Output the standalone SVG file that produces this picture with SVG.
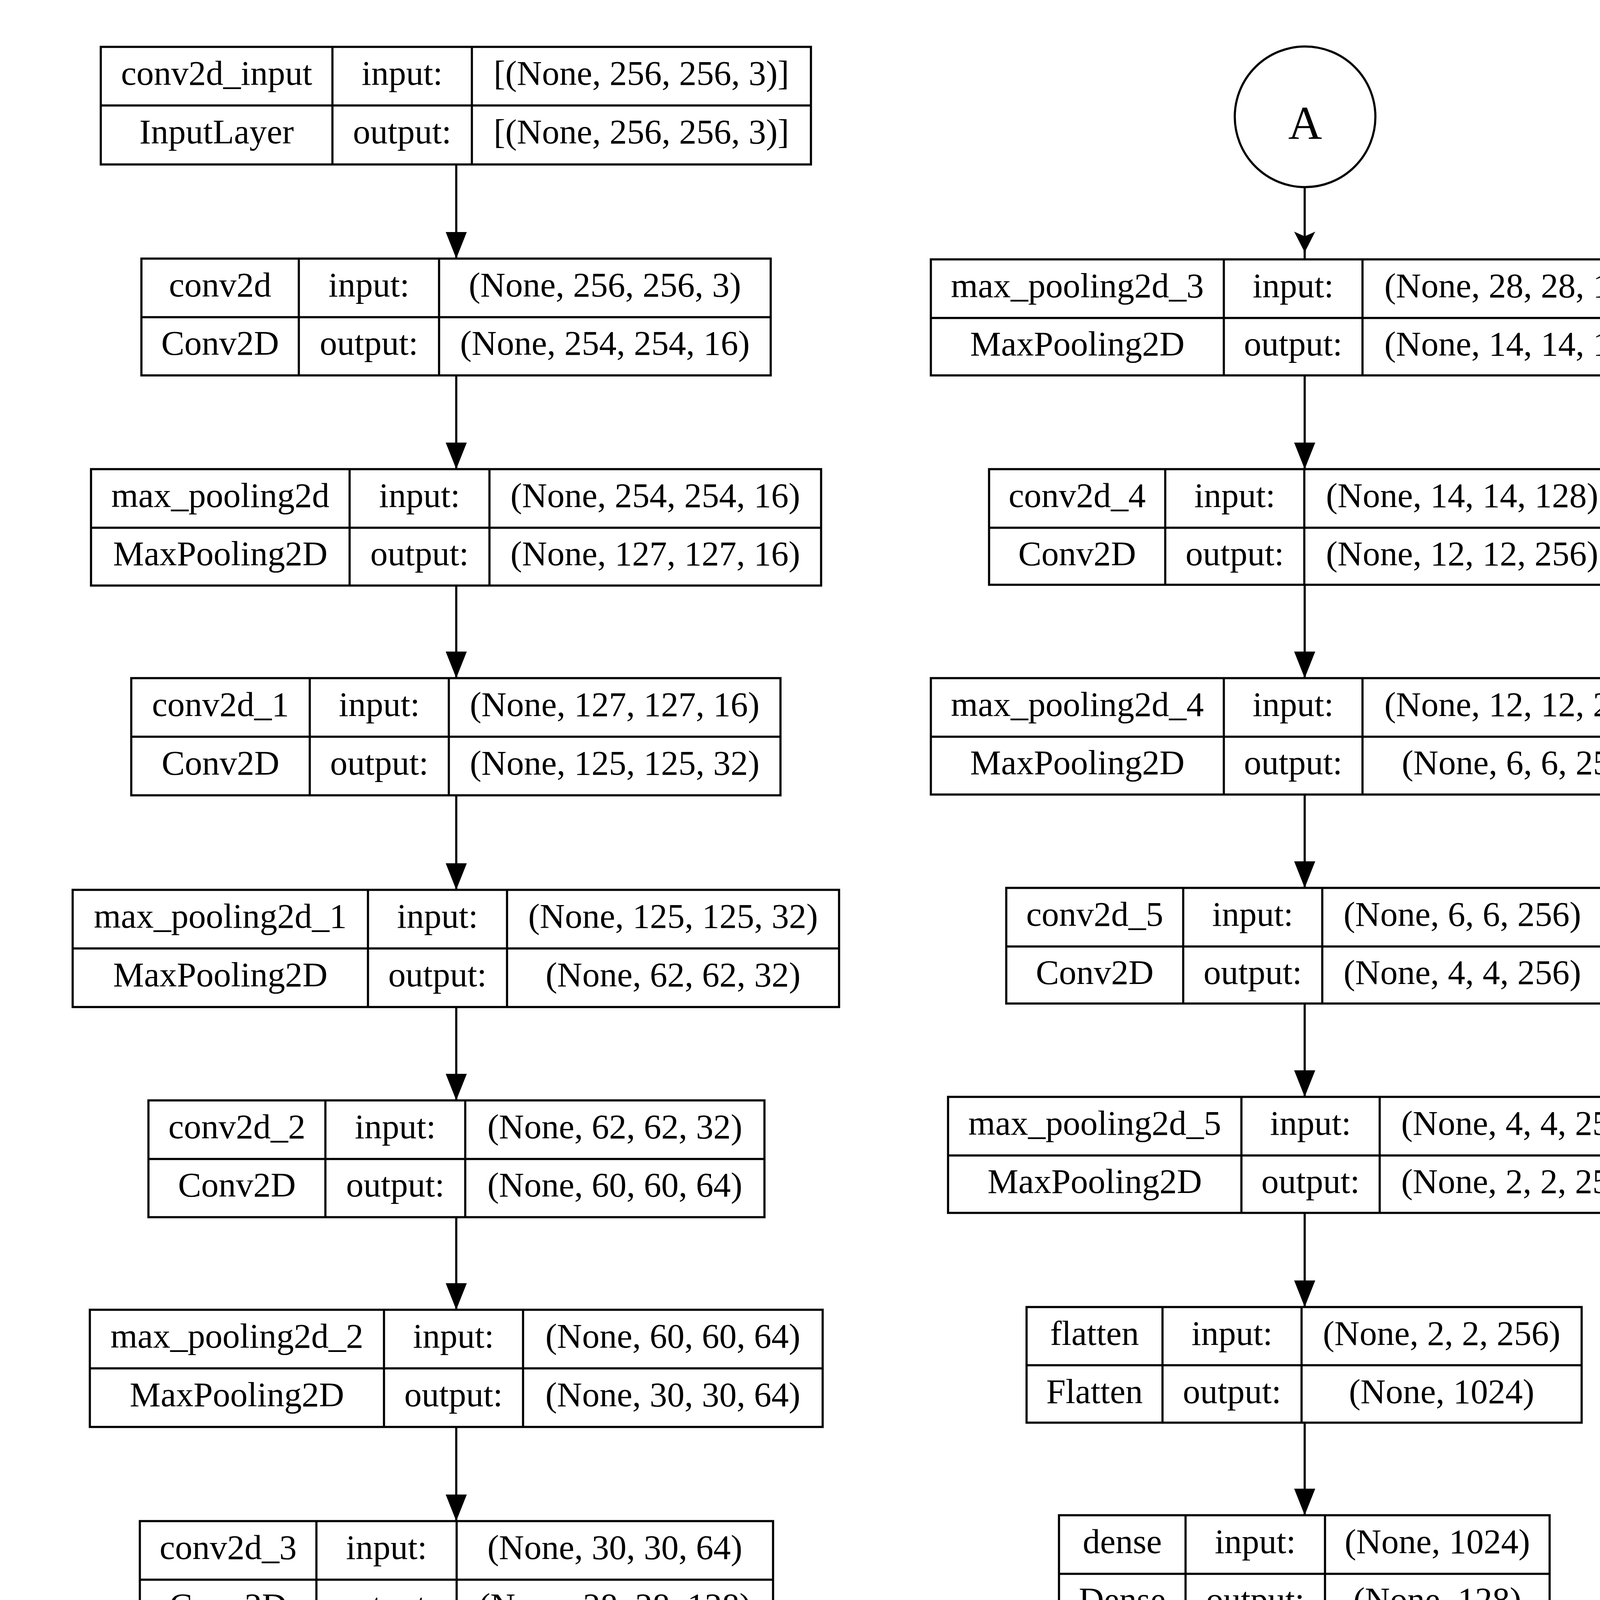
<svg xmlns="http://www.w3.org/2000/svg" width="4472" height="4874" viewBox="0 0 4472 4874">
<style>
.bx{fill:#fff;stroke:#000;stroke-width:5.5}
.ln{stroke:#000;stroke-width:5.5;fill:none}
.t{font-family:"Liberation Serif","Times New Roman",serif;font-size:89px;text-anchor:middle;fill:#000}
.ca{font-family:"Liberation Serif","Times New Roman",serif;font-size:120px;text-anchor:middle;fill:#000}
.ed{stroke:#000;stroke-width:5.5;fill:none}
.cir{fill:#fff;stroke:#000;stroke-width:5.5}
</style>
<defs>
<marker id="ah" markerUnits="userSpaceOnUse" viewBox="0 -30 70 60" refX="68" refY="0" markerWidth="70" markerHeight="60" orient="auto">
<path d="M0,-27 L68,0 L0,27 Z" fill="#000"/>
</marker>
<marker id="av" markerUnits="userSpaceOnUse" viewBox="0 -30 56 60" refX="53" refY="0" markerWidth="56" markerHeight="60" orient="auto">
<path d="M0,-27 L53,0 L0,27 L12,0 Z" fill="#000"/>
</marker>
</defs>
<rect width="4472" height="4874" fill="#fff"/>

<g id="edges">
<path class="ed" d="M1168,421 L1168,662" marker-end="url(#ah)"/>
<path class="ed" d="M1168,961 L1168,1201" marker-end="url(#ah)"/>
<path class="ed" d="M1168,1499 L1168,1736" marker-end="url(#ah)"/>
<path class="ed" d="M1168,2036 L1168,2278" marker-end="url(#ah)"/>
<path class="ed" d="M1168,2578 L1168,2817" marker-end="url(#ah)"/>
<path class="ed" d="M1168,3116 L1168,3353" marker-end="url(#ah)"/>
<path class="ed" d="M1168,3653 L1168,3894" marker-end="url(#ah)"/>
<path class="ed" d="M1168,4192 L1168,4397" marker-end="url(#av)"/>
<path class="ed" d="M3340,479 L3340,646" marker-end="url(#av)"/>
<path class="ed" d="M3340,640 L3340,664"/>
<path class="ed" d="M3340,961 L3340,1201" marker-end="url(#ah)"/>
<path class="ed" d="M3340,1497 L3340,1736" marker-end="url(#ah)"/>
<path class="ed" d="M3340,2034 L3340,2273" marker-end="url(#ah)"/>
<path class="ed" d="M3340,2569 L3340,2808" marker-end="url(#ah)"/>
<path class="ed" d="M3340,3105 L3340,3346" marker-end="url(#ah)"/>
<path class="ed" d="M3340,3642 L3340,3879" marker-end="url(#ah)"/>
<path class="ed" d="M3340,4176 L3340,4417" marker-end="url(#ah)"/>
</g>

<g id="conv2d_input">
<rect class="bx" x="258" y="120" width="1818" height="301"/>
<path class="ln" d="M258,270 H2076 M851,120 V421 M1208,120 V421"/>
<text class="t" x="554.5" y="217">conv2d_input</text>
<text class="t" x="554.5" y="367">InputLayer</text>
<text class="t" x="1029.5" y="217">input:</text>
<text class="t" x="1029.5" y="367">output:</text>
<text class="t" x="1642" y="217">[(None, 256, 256, 3)]</text>
<text class="t" x="1642" y="367">[(None, 256, 256, 3)]</text>
</g>

<g id="conv2d">
<rect class="bx" x="362" y="662" width="1611" height="299"/>
<path class="ln" d="M362,812 H1973 M765,662 V961 M1124,662 V961"/>
<text class="t" x="563.5" y="759">conv2d</text>
<text class="t" x="563.5" y="908">Conv2D</text>
<text class="t" x="944.5" y="759">input:</text>
<text class="t" x="944.5" y="908">output:</text>
<text class="t" x="1548.5" y="759">(None, 256, 256, 3)</text>
<text class="t" x="1548.5" y="908">(None, 254, 254, 16)</text>
</g>

<g id="max_pooling2d">
<rect class="bx" x="233" y="1201" width="1869" height="298"/>
<path class="ln" d="M233,1351 H2102 M895,1201 V1499 M1253,1201 V1499"/>
<text class="t" x="564" y="1298">max_pooling2d</text>
<text class="t" x="564" y="1447">MaxPooling2D</text>
<text class="t" x="1074" y="1298">input:</text>
<text class="t" x="1074" y="1447">output:</text>
<text class="t" x="1677.5" y="1298">(None, 254, 254, 16)</text>
<text class="t" x="1677.5" y="1447">(None, 127, 127, 16)</text>
</g>

<g id="conv2d_1">
<rect class="bx" x="336" y="1736" width="1662" height="300"/>
<path class="ln" d="M336,1886 H1998 M793,1736 V2036 M1149,1736 V2036"/>
<text class="t" x="564.5" y="1833">conv2d_1</text>
<text class="t" x="564.5" y="1983">Conv2D</text>
<text class="t" x="971" y="1833">input:</text>
<text class="t" x="971" y="1983">output:</text>
<text class="t" x="1573.5" y="1833">(None, 127, 127, 16)</text>
<text class="t" x="1573.5" y="1983">(None, 125, 125, 32)</text>
</g>

<g id="max_pooling2d_1">
<rect class="bx" x="186" y="2278" width="1962" height="300"/>
<path class="ln" d="M186,2428 H2148 M942,2278 V2578 M1298,2278 V2578"/>
<text class="t" x="564" y="2375">max_pooling2d_1</text>
<text class="t" x="564" y="2525">MaxPooling2D</text>
<text class="t" x="1120" y="2375">input:</text>
<text class="t" x="1120" y="2525">output:</text>
<text class="t" x="1723" y="2375">(None, 125, 125, 32)</text>
<text class="t" x="1723" y="2525">(None, 62, 62, 32)</text>
</g>

<g id="conv2d_2">
<rect class="bx" x="380" y="2817" width="1577" height="299"/>
<path class="ln" d="M380,2967 H1957 M833,2817 V3116 M1191,2817 V3116"/>
<text class="t" x="606.5" y="2914">conv2d_2</text>
<text class="t" x="606.5" y="3063">Conv2D</text>
<text class="t" x="1012" y="2914">input:</text>
<text class="t" x="1012" y="3063">output:</text>
<text class="t" x="1574" y="2914">(None, 62, 62, 32)</text>
<text class="t" x="1574" y="3063">(None, 60, 60, 64)</text>
</g>

<g id="max_pooling2d_2">
<rect class="bx" x="230" y="3353" width="1876" height="300"/>
<path class="ln" d="M230,3503 H2106 M983,3353 V3653 M1339,3353 V3653"/>
<text class="t" x="606.5" y="3450">max_pooling2d_2</text>
<text class="t" x="606.5" y="3600">MaxPooling2D</text>
<text class="t" x="1161" y="3450">input:</text>
<text class="t" x="1161" y="3600">output:</text>
<text class="t" x="1722.5" y="3450">(None, 60, 60, 64)</text>
<text class="t" x="1722.5" y="3600">(None, 30, 30, 64)</text>
</g>

<g id="conv2d_3">
<rect x="358" y="3894" width="1621" height="296" fill="#fff"/>
<path class="ln" d="M358,4190 V3894 H1979 V4190 M358,4044 H1979 M810,3894 V4190 M1169,3894 V4190"/>
<path d="M356,4190 H1981" stroke="#c4c4c4" stroke-width="5.5"/>
<text class="t" x="584" y="3991">conv2d_3</text>
<text class="t" x="584" y="4140">Conv2D</text>
<text class="t" x="989.5" y="3991">input:</text>
<text class="t" x="989.5" y="4140">output:</text>
<text class="t" x="1574" y="3991">(None, 30, 30, 64)</text>
<text class="t" x="1574" y="4140">(None, 28, 28, 128)</text>
</g>

<g id="A_out">
<circle class="cir" cx="1170" cy="4578" r="180"/>
<text class="ca" x="1170" y="4634">A</text>
</g>

<g id="A_in">
<circle class="cir" cx="3341" cy="299" r="180"/>
<text class="ca" x="3341" y="356">A</text>
</g>

<g id="max_pooling2d_3">
<rect class="bx" x="2383" y="664" width="1914" height="297"/>
<path class="ln" d="M2383,814 H4297 M3133,664 V961 M3488,664 V961"/>
<text class="t" x="2758" y="761">max_pooling2d_3</text>
<text class="t" x="2758" y="910">MaxPooling2D</text>
<text class="t" x="3310.5" y="761">input:</text>
<text class="t" x="3310.5" y="910">output:</text>
<text class="t" x="3892.5" y="761">(None, 28, 28, 128)</text>
<text class="t" x="3892.5" y="910">(None, 14, 14, 128)</text>
</g>

<g id="conv2d_4">
<rect class="bx" x="2532" y="1201" width="1615" height="296"/>
<path class="ln" d="M2532,1351 H4147 M2983,1201 V1497 M3339,1201 V1497"/>
<text class="t" x="2757.5" y="1298">conv2d_4</text>
<text class="t" x="2757.5" y="1447">Conv2D</text>
<text class="t" x="3161" y="1298">input:</text>
<text class="t" x="3161" y="1447">output:</text>
<text class="t" x="3743" y="1298">(None, 14, 14, 128)</text>
<text class="t" x="3743" y="1447">(None, 12, 12, 256)</text>
</g>

<g id="max_pooling2d_4">
<rect class="bx" x="2383" y="1736" width="1914" height="298"/>
<path class="ln" d="M2383,1886 H4297 M3133,1736 V2034 M3488,1736 V2034"/>
<text class="t" x="2758" y="1833">max_pooling2d_4</text>
<text class="t" x="2758" y="1982">MaxPooling2D</text>
<text class="t" x="3310.5" y="1833">input:</text>
<text class="t" x="3310.5" y="1982">output:</text>
<text class="t" x="3892.5" y="1833">(None, 12, 12, 256)</text>
<text class="t" x="3892.5" y="1982">(None, 6, 6, 256)</text>
</g>

<g id="conv2d_5">
<rect class="bx" x="2576" y="2273" width="1526" height="296"/>
<path class="ln" d="M2576,2423 H4102 M3029,2273 V2569 M3385,2273 V2569"/>
<text class="t" x="2802.5" y="2370">conv2d_5</text>
<text class="t" x="2802.5" y="2519">Conv2D</text>
<text class="t" x="3207" y="2370">input:</text>
<text class="t" x="3207" y="2519">output:</text>
<text class="t" x="3743.5" y="2370">(None, 6, 6, 256)</text>
<text class="t" x="3743.5" y="2519">(None, 4, 4, 256)</text>
</g>

<g id="max_pooling2d_5">
<rect class="bx" x="2427" y="2808" width="1823" height="297"/>
<path class="ln" d="M2427,2958 H4250 M3178,2808 V3105 M3532,2808 V3105"/>
<text class="t" x="2802.5" y="2905">max_pooling2d_5</text>
<text class="t" x="2802.5" y="3054">MaxPooling2D</text>
<text class="t" x="3355" y="2905">input:</text>
<text class="t" x="3355" y="3054">output:</text>
<text class="t" x="3891" y="2905">(None, 4, 4, 256)</text>
<text class="t" x="3891" y="3054">(None, 2, 2, 256)</text>
</g>

<g id="flatten">
<rect class="bx" x="2628" y="3346" width="1421" height="296"/>
<path class="ln" d="M2628,3495 H4049 M2976,3346 V3642 M3332,3346 V3642"/>
<text class="t" x="2802" y="3443">flatten</text>
<text class="t" x="2802" y="3592">Flatten</text>
<text class="t" x="3154" y="3443">input:</text>
<text class="t" x="3154" y="3592">output:</text>
<text class="t" x="3690.5" y="3443">(None, 2, 2, 256)</text>
<text class="t" x="3690.5" y="3592">(None, 1024)</text>
</g>

<g id="dense">
<rect class="bx" x="2711" y="3879" width="1256" height="297"/>
<path class="ln" d="M2711,4029 H3967 M3035,3879 V4176 M3392,3879 V4176"/>
<text class="t" x="2873" y="3976">dense</text>
<text class="t" x="2873" y="4125">Dense</text>
<text class="t" x="3213.5" y="3976">input:</text>
<text class="t" x="3213.5" y="4125">output:</text>
<text class="t" x="3679.5" y="3976">(None, 1024)</text>
<text class="t" x="3679.5" y="4125">(None, 128)</text>
</g>

<g id="dense_1">
<rect class="bx" x="2696" y="4417" width="1286" height="296"/>
<path class="ln" d="M2696,4566 H3982 M3090,4417 V4713 M3445,4417 V4713"/>
<text class="t" x="2893" y="4514">dense_1</text>
<text class="t" x="2893" y="4663">Dense</text>
<text class="t" x="3267.5" y="4514">input:</text>
<text class="t" x="3267.5" y="4663">output:</text>
<text class="t" x="3713.5" y="4514">(None, 128)</text>
<text class="t" x="3713.5" y="4663">(None, 3)</text>
</g>
</svg>
